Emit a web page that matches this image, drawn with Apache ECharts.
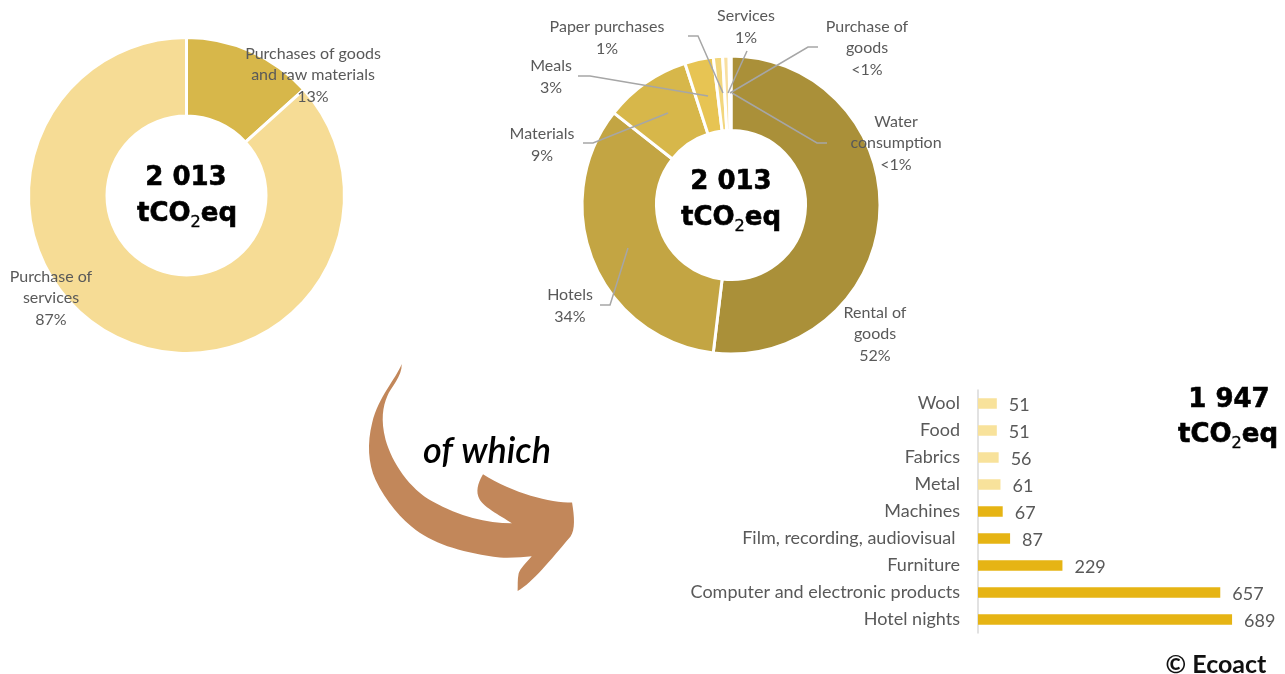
<!DOCTYPE html>
<html>
<head>
<meta charset="utf-8">
<script src="https://cdn.jsdelivr.net/npm/echarts@6/dist/echarts.min.js"></script>
<style>
  html,body{margin:0;padding:0;background:#fff;}
  #main{width:1285px;height:674px;}
</style>
</head>
<body>
<div id="main"></div>
<script>
// left donut
var splitNames = ['Purchases of goods\nand raw materials', 'Purchase of\nservices'];
var splitValues = [13.3, 86.7];
var splitPct = ['13%', '87%'];
var splitColors = ['#d7b74a', '#f6dc95'];

// right donut
var goodsNames = ['Rental of\ngoods', 'Hotels', 'Materials', 'Meals', 'Paper purchases', 'Services', 'Purchase of\ngoods', 'Water\nconsumption'];
var goodsValues = [51.9, 33.7, 9.4, 3.1, 1, 0.7, 0.1, 0.1];
var goodsPct = ['52%', '34%', '9%', '3%', '1%', '1%', '<1%', '<1%'];
var goodsColors = ['#aa9039', '#c3a543', '#d7b74a', '#e7c453', '#f2d67c', '#f8dfa0', '#f9e7b5', '#fbeecb'];

// bars
var barNames = ['Wool', 'Food', 'Fabrics', 'Metal', 'Machines', 'Film, recording, audiovisual ', 'Furniture', 'Computer and electronic products', 'Hotel nights'];
var barValues = [51, 51, 56, 61, 67, 87, 229, 657, 689];
var barColors = ['#f8e29b', '#f8e29b', '#f8e29b', '#f8e29b', '#e6b414', '#e6b414', '#e6b414', '#e6b414', '#e6b414'];

var GREY = '#595959';
var LABEL_FONT = 'Lato';

// label anchors and leader lines, page pixels
var splitSpots = [[313, 75], [51, 298]];
var goodsSpots = [[875, 334], [570, 306], [542, 145], [551, 77], [607, 38], [746, 27], [867, 48], [896, 143]];
var goodsLines = [
  null,
  [[600, 305], [610, 305], [628, 248]],
  [[583, 143], [593, 143], [668, 113]],
  [[578, 76], [590, 76], [708, 96]],
  [[688, 36], [698, 36], [723, 93]],
  [[747, 51], [747, 51], [728, 93]],
  [[818, 47], [808, 47], [730, 93]],
  [[827, 143], [817, 143], [732, 93]]
];

function pieData(names, values, colors) {
  return values.map(function (v, i) {
    return {name: names[i], value: v, itemStyle: {color: colors[i]}};
  });
}

// same slices again without fill, only to hold labels and leader lines above the donut
function labelData(names, values, pct, lines) {
  return values.map(function (v, i) {
    return {name: names[i], value: v, pct: pct[i], labelLine: {show: !!(lines && lines[i])}};
  });
}

function co2Text(cx, cy, size) {
  return {
    type: 'text',
    x: cx,
    y: cy,
    style: {
      text: '{b|tCO}{s|2}{b|eq}',
      align: 'center',
      verticalAlign: 'middle',
      rich: {
        b: {font: 'bold ' + size + 'px "DejaVu Sans"', fill: '#000', stroke: '#000', lineWidth: 0.6, lineHeight: 34},
        s: {font: (size * 0.62) + 'px "DejaVu Sans"', fill: '#000', stroke: '#000', lineWidth: 0.4, verticalAlign: 'bottom', lineHeight: 26}
      }
    }
  };
}

function bigText(str, cx, cy, size) {
  return {
    type: 'text',
    x: cx,
    y: cy,
    style: {text: str, align: 'center', verticalAlign: 'middle', font: 'bold ' + size + 'px "DejaVu Sans"', fill: '#000', stroke: '#000', lineWidth: 0.6}
  };
}

var arrowPath = 'M128 14 C110 60 60 110 40 190 C25 250 28 310 50 360 C80 425 130 480 170 510 ' +
  'C230 555 320 580 420 592 C460 594 490 590 515 588 C500 605 480 625 476 640 C472 660 474 675 473 692 ' +
  'C520 665 570 600 630 530 C645 510 642 470 635 428 C570 428 460 400 370 343 C360 360 348 385 356 410 ' +
  'C365 440 420 465 456 490 C380 490 300 470 220 425 C150 385 100 310 80 240 C65 180 72 140 85 110 ' +
  'C95 85 130 50 128 14 Z';

var labelStyle = {
  formatter: function (p) { return p.name + '\n' + p.data.pct; },
  color: GREY, fontFamily: LABEL_FONT, fontSize: 16, lineHeight: 21.5, align: 'center', overflow: 'none'
};

var option = {
  animation: false,
  graphic: {
    elements: [
      bigText('2 013', 186, 178, 26),
      co2Text(187, 214, 26),
      bigText('2 013', 731, 182, 26),
      co2Text(731, 218, 26),
      bigText('1 947', 1229, 400, 26),
      co2Text(1228, 435, 26),
      {
        type: 'text', x: 487, y: 451,
        style: {text: 'of which', align: 'center', verticalAlign: 'middle', font: 'italic 600 36px Lato', fill: '#000'}
      },
      {
        type: 'text', x: 1216, y: 665,
        style: {text: '© Ecoact', align: 'center', verticalAlign: 'middle', font: 'bold 25px Lato', fill: '#111'}
      }
    ]
  },
  grid: {left: 978, top: 390, width: 295, height: 243},
  xAxis: {type: 'value', min: 0, max: 800, show: false},
  yAxis: {
    type: 'category',
    inverse: true,
    data: barNames,
    axisLine: {lineStyle: {color: '#d9d9d9', width: 1.5}},
    axisTick: {length: 7, lineStyle: {color: '#d9d9d9', width: 1.5}},
    axisLabel: {color: GREY, fontFamily: LABEL_FONT, fontSize: 18, margin: 18}
  },
  series: [
    {
      type: 'custom',
      coordinateSystem: 'none',
      silent: true,
      data: [[0]],
      renderItem: function () {
        return {
          type: 'path',
          shape: {pathData: arrowPath, layout: 'cover', x: 369, y: 364, width: 205, height: 227},
          style: {fill: '#c2875a'}
        };
      }
    },
    {
      type: 'pie',
      center: [186.5, 195.5],
      radius: [79.5, 158],
      silent: true,
      itemStyle: {borderColor: '#fff', borderWidth: 3},
      label: {show: false},
      data: pieData(splitNames, splitValues, splitColors)
    },
    {
      type: 'pie',
      z: 5,
      center: [186.5, 195.5],
      radius: [79.5, 158],
      silent: true,
      itemStyle: {color: 'rgba(0,0,0,0)'},
      data: labelData(splitNames, splitValues, splitPct, null),
      label: labelStyle,
      labelLayout: function (p) {
        return {x: splitSpots[p.dataIndex][0], y: splitSpots[p.dataIndex][1], align: 'center', verticalAlign: 'middle'};
      }
    },
    {
      type: 'pie',
      center: [731, 205],
      radius: [74.5, 149],
      silent: true,
      itemStyle: {borderColor: '#fff', borderWidth: 3},
      label: {show: false},
      data: pieData(goodsNames, goodsValues, goodsColors)
    },
    {
      type: 'pie',
      z: 5,
      center: [731, 205],
      radius: [74.5, 149],
      silent: true,
      itemStyle: {color: 'rgba(0,0,0,0)'},
      data: labelData(goodsNames, goodsValues, goodsPct, goodsLines),
      label: labelStyle,
      labelLine: {lineStyle: {color: '#a6a6a6', width: 1.5}},
      labelLayout: function (p) {
        var out = {x: goodsSpots[p.dataIndex][0], y: goodsSpots[p.dataIndex][1], align: 'center', verticalAlign: 'middle'};
        if (goodsLines[p.dataIndex]) out.labelLinePoints = goodsLines[p.dataIndex];
        return out;
      }
    },
    {
      type: 'bar',
      barWidth: 10.5,
      data: barValues.map(function (v, i) {
        return {value: v, itemStyle: {color: barColors[i]}};
      }),
      label: {show: true, position: 'right', distance: 12, offset: [0, 1.5], color: GREY, fontFamily: LABEL_FONT, fontSize: 18}
    }
  ]
};

var chart = echarts.init(document.getElementById('main'));
chart.setOption(option);
</script>
</body>
</html>
